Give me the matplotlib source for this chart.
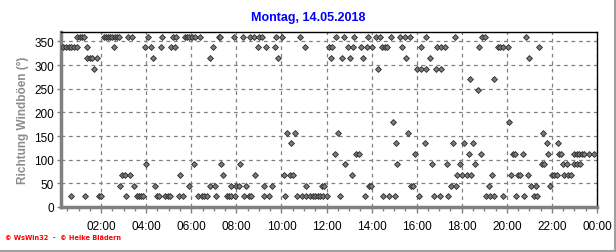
import matplotlib
matplotlib.use("Agg")
import matplotlib.pyplot as plt
from matplotlib.lines import Line2D
from matplotlib.ticker import MultipleLocator, FuncFormatter

# Richtung der Windböen, Zeit in Stunden, je Richtungsstufe
t_360 = [0.95, 1.05, 1.16, 1.26, 2.13, 2.22, 2.31, 2.40, 2.49, 2.62, 2.71, 2.80,
         3.21, 3.36, 4.10, 4.72, 5.19, 5.33, 5.70, 5.81, 5.91, 6.01, 6.18, 6.37,
         7.21, 7.29, 7.88, 8.28, 8.59, 8.77, 9.01, 9.12, 9.76, 10.03, 10.84,
         12.44, 12.77, 13.24, 13.85, 14.18, 14.37, 14.84, 15.26, 15.48, 15.70,
         16.41, 17.70, 18.92, 19.02, 20.86]
t_337 = [0.32, 0.44, 0.56, 0.68, 0.80, 0.92, 1.36, 2.55, 3.96, 4.21, 4.65, 5.11,
         5.28, 6.95, 8.95, 9.33, 9.70, 11.04, 12.10, 12.25, 12.96, 13.17, 13.51,
         13.81, 14.00, 14.48, 14.59, 14.70, 15.33, 16.21, 16.92, 17.07, 17.24,
         18.77, 19.61, 19.70, 19.81, 20.03, 21.44]
t_315 = [1.39, 1.50, 1.60, 1.81, 4.28, 6.84, 9.84, 12.21, 12.70, 13.04, 13.61,
         15.52, 16.59, 20.99]
t_292 = [1.70, 14.28, 16.00, 16.21, 16.40, 16.84, 17.07]
t_270 = [18.37, 19.44]
t_247 = [18.70]
t_180 = [14.96, 20.10]
t_157 = [10.25, 10.58, 12.50, 15.61, 21.61]
t_135 = [10.44, 15.10, 16.37, 17.61, 18.10, 18.50, 21.76, 22.28]
t_112 = [12.37, 13.29, 13.44, 15.92, 18.30, 18.86, 20.28, 20.34, 20.70, 21.84,
         22.32, 22.41, 22.99, 23.11, 23.21, 23.32, 23.44, 23.66, 23.88]
t_090 = [4.00, 6.10, 7.33, 8.18, 12.84, 15.14, 16.70, 17.36, 17.92, 18.58,
         21.54, 21.63, 22.48, 22.65, 22.99, 23.11, 23.26]
t_067 = [2.92, 3.04, 3.29, 5.51, 7.41, 8.84, 10.10, 10.37, 10.52, 13.11, 17.81,
         18.03, 18.25, 18.43, 19.33, 20.18, 20.50, 20.59, 20.95, 21.99, 22.10,
         22.22, 22.55, 22.70, 22.84]
t_045 = [2.84, 3.44, 4.37, 5.88, 6.81, 7.04, 7.78, 8.00, 8.13, 8.44, 9.21, 9.59,
         11.11, 11.81, 11.91, 13.88, 13.99, 15.73, 15.84, 17.51, 17.73, 19.19,
         21.07, 21.29, 21.92]
t_022 = [0.67, 1.30, 1.90, 2.01, 3.11, 3.59, 3.70, 3.79, 3.88, 4.48, 4.58, 4.84,
         4.96, 5.07, 5.44, 5.63, 6.30, 6.48, 6.58, 6.70, 7.11, 7.59, 7.68, 7.76,
         7.92, 8.32, 8.55, 8.65, 9.21, 9.44, 10.18, 10.70, 10.92, 11.11, 11.26,
         11.41, 11.51, 11.61, 11.73, 11.84, 12.03, 12.59, 13.70, 14.50, 14.77,
         15.04, 16.10, 16.77, 17.04, 17.41, 19.07, 19.24, 19.44, 19.81, 20.40,
         20.77, 21.21, 21.36]

levels = [360, 337.5, 315, 292.5, 270, 247.5, 180, 157.5, 135, 112.5, 90, 67.5, 45, 22.5]
times = [t_360, t_337, t_315, t_292, t_270, t_247, t_180, t_157, t_135, t_112,
         t_090, t_067, t_045, t_022]

fig = plt.figure(figsize=(6.16, 2.53), dpi=100)
ax = fig.add_axes([61 / 616, 1 - 208 / 253, 536 / 616, 175 / 253])

for lev, ts in zip(levels, times):
    ax.plot(ts, [lev] * len(ts), ls="none", marker="D", ms=3.0,
            mfc="#7a7a7a", mec="#2a2a2a", mew=0.6, zorder=3)

ax.set_xlim(0.22, 24.0)
ax.set_ylim(0, 370)
ax.xaxis.set_major_locator(MultipleLocator(2))
ax.xaxis.set_minor_locator(MultipleLocator(0.5))
ax.xaxis.set_major_formatter(FuncFormatter(lambda v, p: "%02d:00" % (int(round(v)) % 24)))
ax.yaxis.set_major_locator(MultipleLocator(50))

ax.grid(True, which="major", color="#808080", ls=(0, (3, 3)), lw=0.9)
ax.set_axisbelow(True)

for s in ["left", "bottom"]:
    ax.spines[s].set_color("#808080")
    ax.spines[s].set_linewidth(2.5)
for s in ["top", "right"]:
    ax.spines[s].set_color("black")
    ax.spines[s].set_linewidth(1.0)

ax.tick_params(axis="both", which="both", color="#808080", labelsize=8.5,
               labelcolor="black", width=1)
ax.tick_params(axis="x", which="major", length=4, pad=5)
ax.tick_params(axis="x", which="minor", length=3)
ax.tick_params(axis="y", which="major", length=3, pad=2)
for lab in ax.get_xticklabels() + ax.get_yticklabels():
    lab.set_family("Liberation Sans")

ax.set_ylabel("Richtung Windböen (°)", color="#8c8c8c", fontsize=8.5,
              fontweight="bold", family="Liberation Sans", labelpad=4)

fig.text(308 / 616, 1 - 18 / 253, "Montag, 14.05.2018", color="#0000ff",
         fontsize=9, fontweight="bold", family="Liberation Sans",
         ha="center", va="center")
fig.text(5 / 616, 1 - 238 / 253, "© WsWin32  -  © Heike Blädern", color="red",
         fontsize=4.8, fontweight="bold", family="DejaVu Sans", va="center")

# grauer Rahmen rechts und unten
fig.add_artist(Line2D([614.5 / 616, 614.5 / 616], [0, 1], color="#a0a0a0", lw=1.5))
fig.add_artist(Line2D([0, 1], [1.5 / 253, 1.5 / 253], color="#a0a0a0", lw=1.5))

fig.savefig("out.png", dpi=100)
